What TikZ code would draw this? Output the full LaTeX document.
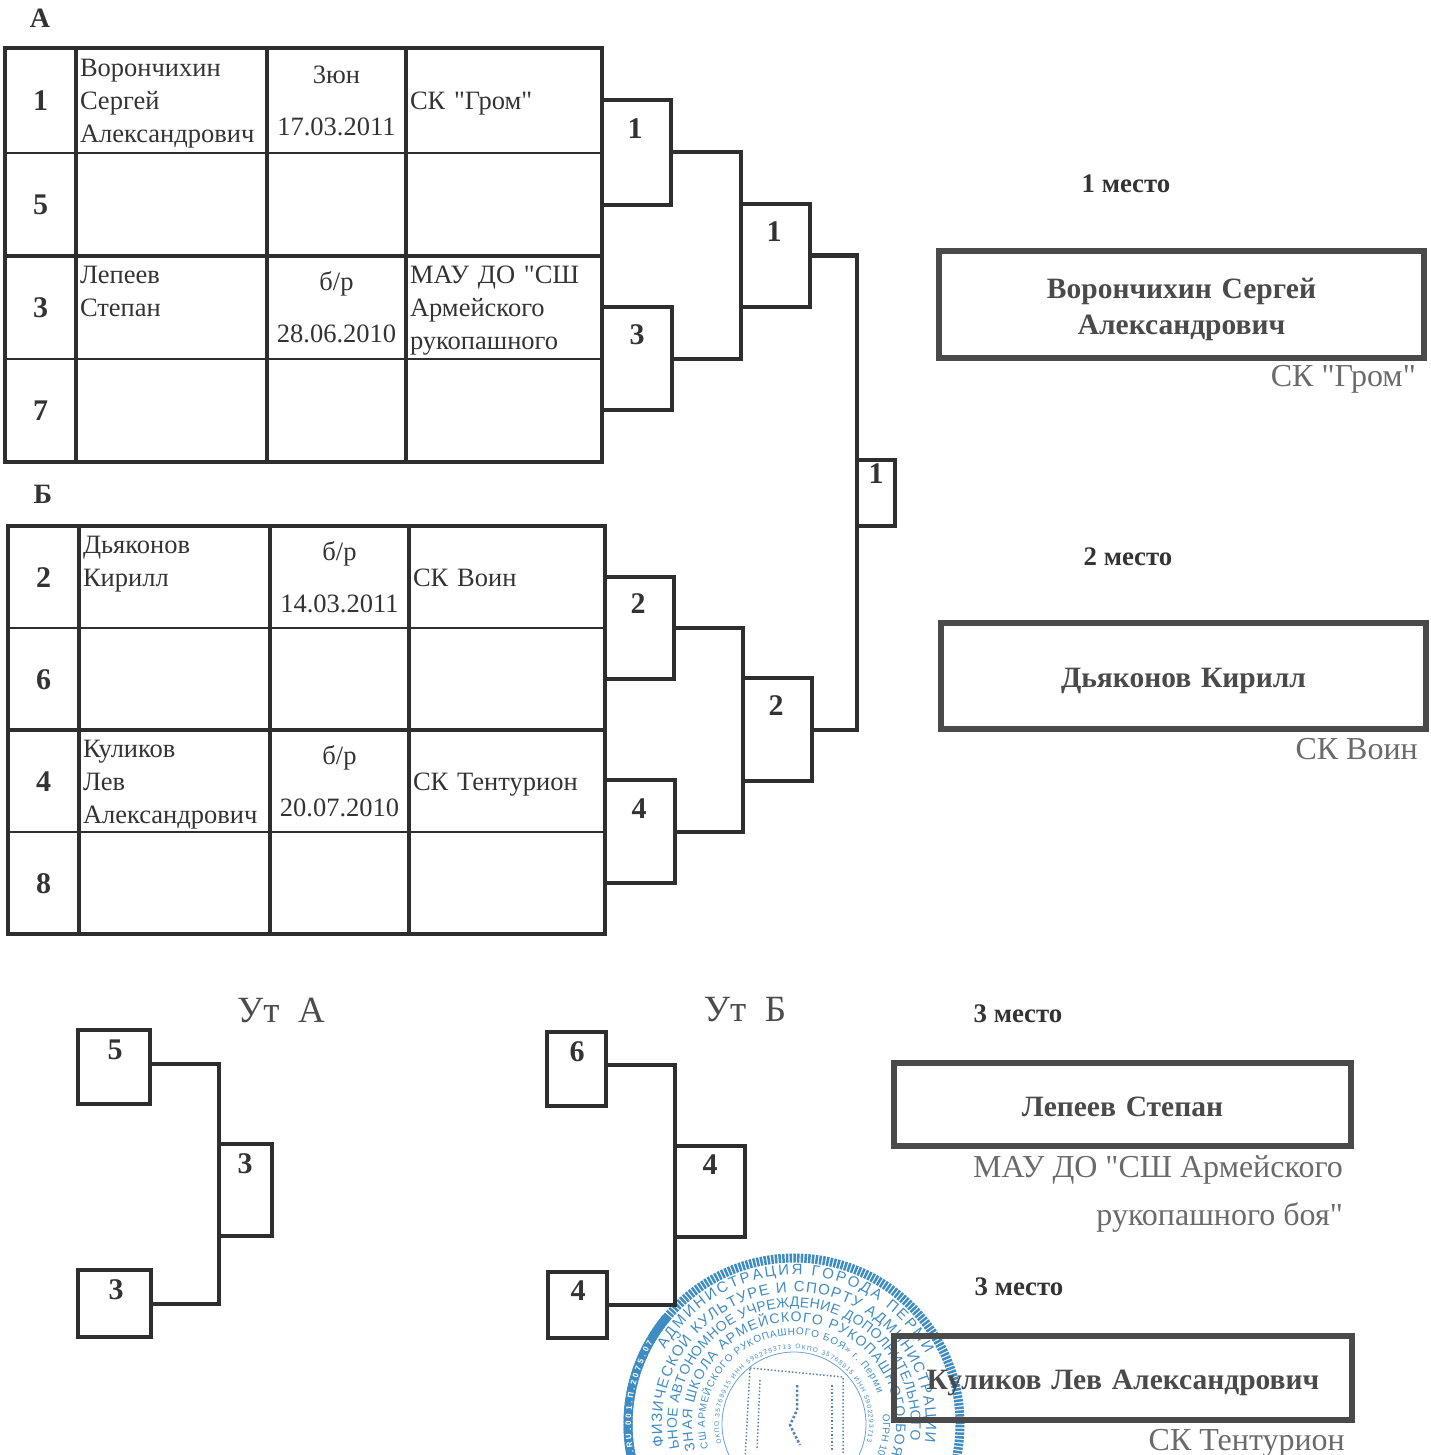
\documentclass[tikz,border=0pt]{standalone}
\usepackage{fontspec}
\setmainfont{Liberation Serif}[Ligatures=TeXOff]
\newfontfamily\stampfont{Liberation Sans}
\usepackage{xcolor}
\usetikzlibrary{positioning,fit,decorations.text}
\definecolor{GridInk}{HTML}{2E2E2E}
\definecolor{PrizeInk}{HTML}{4A4A4A}
\definecolor{ClubInk}{HTML}{6A6A6A}
\definecolor{StampBlue}{HTML}{3F8CC4}
\tikzset{
  cell/.style={draw=GridInk,line width=2pt,minimum height=103pt,inner sep=0pt,outer sep=0pt,
    font=\fontsize{26.5}{33}\selectfont,text=black!80},
  numcell/.style={cell,minimum width=71pt,font=\fontsize{30}{33}\selectfont\bfseries,
    execute at begin node={\rule{0pt}{28pt}},execute at end node={\rule[-8pt]{0pt}{8pt}}},
  namecell/.style={cell,minimum width=191pt,text width=183pt,align=left,
    execute at begin node={\rule{0pt}{26.5pt}},execute at end node={\rule[-8pt]{0pt}{8pt}}},
  datecell/.style={cell,minimum width=139pt,text width=135pt,align=center,font=\fontsize{26.5}{52}\selectfont,
    execute at begin node={\rule{0pt}{26.5pt}},execute at end node={\rule[-8pt]{0pt}{8pt}}},
  clubcell/.style={cell,minimum width=196pt,text width=188pt,align=left,
    execute at begin node={\rule{0pt}{26.5pt}},execute at end node={\rule[-8pt]{0pt}{8pt}}},
  toprow/.style={minimum height=105pt},
  frame/.style={draw=GridInk,line width=4pt,inner sep=0pt},
  heavy/.style={draw=GridInk,line width=4pt},
  bracket/.style={draw=GridInk,line width=4pt,inner sep=0pt,outer sep=0pt},
  link/.style={draw=GridInk,line width=4pt},
  num/.style={font=\fontsize{30}{33}\selectfont\bfseries,text=black!80,inner sep=0pt,yshift=-1pt},
  grouplabel/.style={font=\fontsize{28}{30}\selectfont\bfseries,text=black!80,inner sep=0pt},
  reptitle/.style={font=\fontsize{37}{38}\selectfont,text=black!70,inner sep=0pt},
  place/.style={font=\fontsize{26.8}{28}\selectfont\bfseries,text=black!80,inner sep=0pt},
  prize/.style={draw=PrizeInk,line width=6pt,inner sep=0pt,text width=440pt,align=center,text=PrizeInk,
    font=\fontsize{29.5}{36}\selectfont\bfseries,
    execute at begin node={\rule{0pt}{31.5pt}},execute at end node={\rule[-8pt]{0pt}{8pt}}},
  club/.style={anchor=east,inner sep=0pt,text=ClubInk,font=\fontsize{32}{33}\selectfont},
  ring/.style={decorate,decoration={text along path,text align=fit to path,text={#1}}}
}
\begin{document}
\begin{tikzpicture}[x=1pt,y=-1pt]
  \useasboundingbox (0,0) rectangle (1430,1455);
  % stamp
  \coordinate (stamp) at (794,1424);
  \begin{scope}
    \clip (0,0) rectangle (1430,1455);
    \draw[StampBlue,line width=9pt,dash pattern=on 2.5pt off 1.2pt] (stamp) circle[radius=166pt];
    \draw[StampBlue,line width=9pt] (stamp) ++(205:166pt) arc[start angle=205,end angle=140,radius=166pt];
    \draw[StampBlue!80,line width=.8pt] (stamp) circle[radius=72pt];
    \draw[StampBlue!60!gray,line width=1.5pt,dotted] (750,1368) -- (843,1377) -- (843,1460) -- (745,1460) -- cycle;
    \draw[StampBlue!60!gray,line width=1.5pt,dotted] (760,1380) -- (757,1450);
    \draw[StampBlue!60!gray,line width=1.5pt,dotted] (832,1385) -- (832,1450);
    \draw[StampBlue!60!gray,line width=2.5pt,dotted] (797,1385) -- (797,1410) -- (790,1425) -- (800,1445);
    \path[ring={|\stampfont\fontsize{15}{15}\selectfont\color{StampBlue}|АДМИНИСТРАЦИЯ ГОРОДА ПЕРМИ}] (stamp) ++(150:149pt) arc[start angle=150,end angle=28,radius=149pt];
    \path[ring={|\stampfont\fontsize{15}{15}\selectfont\color{StampBlue}|ФИЗИЧЕСКОЙ КУЛЬТУРЕ И СПОРТУ АДМИНИСТРАЦИИ}] (stamp) ++(190:132pt) arc[start angle=190,end angle=-8,radius=132pt];
    \path[ring={|\stampfont\fontsize{14}{14}\selectfont\color{StampBlue}|ЬНОЕ АВТОНОМНОЕ УЧРЕЖДЕНИЕ ДОПОЛНИТЕЛЬНОГО}] (stamp) ++(192:117pt) arc[start angle=192,end angle=-8,radius=117pt];
    \path[ring={|\stampfont\fontsize{14}{14}\selectfont\color{StampBlue}|ЗНАЯ ШКОЛА АРМЕЙСКОГО РУКОПАШНОГО БОЯ}] (stamp) ++(195:102pt) arc[start angle=195,end angle=-18,radius=102pt];
    \path[ring={|\stampfont\fontsize{10}{10}\selectfont\color{StampBlue}|СШ АРМЕЙСКОГО РУКОПАШНОГО БОЯ» г. Перми}] (stamp) ++(196:89pt) arc[start angle=196,end angle=20,radius=89pt];
    \path[ring={|\stampfont\fontsize{10}{10}\selectfont\color{StampBlue}|ОГРН 10}] (stamp) ++(6:89pt) arc[start angle=6,end angle=-20,radius=89pt];
    \path[ring={|\stampfont\fontsize{6.5}{7}\selectfont\color{StampBlue}|ОКПО 35768915 ИНН 5902293713 ОКПО 35768915 ИНН 5902293713}] (stamp) ++(195:75pt) arc[start angle=195,end angle=-14,radius=75pt];
    \path[ring={|\stampfont\fontsize{8}{8}\selectfont\bfseries\color{white}|RT.RU.001.П.2075.07}] (stamp) ++(196:163pt) arc[start angle=196,end angle=150,radius=163pt];
  \end{scope}
  % group A
  \node[grouplabel] (labela) at (40,18) {А};
  \node[numcell,toprow] (a1) at (40.5,100.5) {1};
  \node[namecell,toprow,right=0pt of a1] (a1n) {Ворончихин\\Сергей\\Александрович};
  \node[datecell,toprow,right=0pt of a1n] (a1d) {3юн\\17.03.2011};
  \node[clubcell,toprow,right=0pt of a1d] (a1c) {СК "Гром"};
  \node[numcell,below=0pt of a1] (a5) {5};
  \node[namecell,right=0pt of a5] (a5n) {};
  \node[datecell,right=0pt of a5n] (a5d) {};
  \node[clubcell,right=0pt of a5d] (a5c) {};
  \node[numcell,below=0pt of a5] (a3) {3};
  \node[namecell,right=0pt of a3] (a3n) {Лепеев\\Степан\\~};
  \node[datecell,right=0pt of a3n] (a3d) {б/р\\28.06.2010};
  \node[clubcell,right=0pt of a3d] (a3c) {МАУ ДО "СШ\\Армейского\\рукопашного};
  \node[numcell,below=0pt of a3] (a7) {7};
  \node[namecell,right=0pt of a7] (a7n) {};
  \node[datecell,right=0pt of a7n] (a7d) {};
  \node[clubcell,right=0pt of a7d] (a7c) {};
  \node[frame,fit=(a1)(a7c)] (tablea) {};
  \draw[heavy] (a5.south west) -- (a5c.south east);
  \draw[heavy] (a1n.north west) -- (a7n.south west);
  \draw[heavy] (a1d.north west) -- (a7d.south west);
  \draw[heavy] (a1c.north west) -- (a7c.south west);
  % group B
  \node[grouplabel] (labelb) at (43,494) {Б};
  \begin{scope}[cell/.append style={minimum height=102pt}]
    \node[numcell] (b2) at (43.5,577) {2};
    \node[namecell,right=0pt of b2] (b2n) {Дьяконов\\Кирилл\\~};
    \node[datecell,right=0pt of b2n] (b2d) {б/р\\14.03.2011};
    \node[clubcell,right=0pt of b2d] (b2c) {СК Воин};
    \node[numcell,below=0pt of b2] (b6) {6};
    \node[namecell,right=0pt of b6] (b6n) {};
    \node[datecell,right=0pt of b6n] (b6d) {};
    \node[clubcell,right=0pt of b6d] (b6c) {};
    \node[numcell,below=0pt of b6] (b4) {4};
    \node[namecell,right=0pt of b4] (b4n) {Куликов\\Лев\\Александрович};
    \node[datecell,right=0pt of b4n] (b4d) {б/р\\20.07.2010};
    \node[clubcell,right=0pt of b4d] (b4c) {СК Тентурион};
    \node[numcell,below=0pt of b4] (b8) {8};
    \node[namecell,right=0pt of b8] (b8n) {};
    \node[datecell,right=0pt of b8n] (b8d) {};
    \node[clubcell,right=0pt of b8d] (b8c) {};
  \end{scope}
  \node[frame,fit=(b2)(b8c)] (tableb) {};
  \draw[heavy] (b6.south west) -- (b6c.south east);
  \draw[heavy] (b2n.north west) -- (b8n.south west);
  \draw[heavy] (b2d.north west) -- (b8d.south west);
  \draw[heavy] (b2c.north west) -- (b8c.south west);
  % bracket A
  \node[bracket,minimum width=69pt,minimum height=105pt] (wa1) at (636.5,152.5) {};
  \node[bracket,minimum width=70pt,minimum height=103pt] (wa3) at (637,358.5) {};
  \node[bracket,minimum width=69pt,minimum height=103pt] (wa) at (775.5,255.5) {};
  \node[num] (wa1t) at (635,128) {1};
  \node[num] (wa3t) at (637,334) {3};
  \node[num] (wat) at (774,231) {1};
  \draw[link] (wa1.east) -| (wa.west) |- (wa3.east);
  % bracket B
  \node[bracket,minimum width=69pt,minimum height=102pt] (wb2) at (639.5,628) {};
  \node[bracket,minimum width=70pt,minimum height=103pt] (wb4) at (640,831.5) {};
  \node[bracket,minimum width=69pt,minimum height=103pt] (wb) at (777.5,729.5) {};
  \node[num] (wb2t) at (638,603) {2};
  \node[num] (wb4t) at (639,808) {4};
  \node[num] (wbt) at (776,705) {2};
  \draw[link] (wb2.east) -| (wb.west) |- (wb4.east);
  % final
  \node[bracket,minimum width=38pt,minimum height=66pt] (final) at (876,493) {};
  \node[num] (finalt) at (876,473) {1};
  \draw[link] (wa.east) -| (final.west) |- (wb.east);
  % repechage A
  \node[reptitle] (uta) at (281,1010) {Ут\ \ А};
  \node[bracket,minimum width=72pt,minimum height=74pt] (ra5) at (114,1067) {};
  \node[bracket,minimum width=73pt,minimum height=67pt] (ra3) at (114.5,1303.5) {};
  \node[bracket,minimum width=53pt,minimum height=92pt] (ra) at (245.5,1190) {};
  \node[num] (ra5t) at (115,1049) {5};
  \node[num] (ra3t) at (116,1289) {3};
  \node[num] (rat) at (245,1163) {3};
  \draw[link] (ra5.east |- 0,1064) -| (ra.west) |- (ra3.east);
  % repechage B
  \node[reptitle] (utb) at (745,1010) {Ут\ \ Б};
  \node[bracket,minimum width=59pt,minimum height=74pt] (rb6) at (576.5,1069) {};
  \node[bracket,minimum width=59pt,minimum height=66pt] (rb4) at (577.5,1305) {};
  \node[bracket,minimum width=70pt,minimum height=91pt] (rb) at (710,1191.5) {};
  \node[num] (rb6t) at (577,1051) {6};
  \node[num] (rb4t) at (578,1290) {4};
  \node[num] (rbt) at (710,1164) {4};
  \draw[link] (rb6.east |- 0,1065) -| (rb.west) |- (rb4.east);
  % places
  \node[place] (place1) at (1126,184) {1 место};
  \node[prize,minimum width=485pt,minimum height=107pt] (prize1) at (1181.5,304.5) {Ворончихин Сергей\\Александрович};
  \node[club] (club1) at (1416,379) {СК "Гром"};
  \node[place] (place2) at (1128,557) {2 место};
  \node[prize,minimum width=485pt,minimum height=106pt] (prize2) at (1183.5,676) {Дьяконов Кирилл};
  \node[club] (club2) at (1418,749) {СК Воин};
  \node[place] (place3) at (1018,1014) {3 место};
  \node[prize,minimum width=457pt,minimum height=83pt] (prize3) at (1122.5,1104.5) {Лепеев Степан};
  \node[club,align=right,font=\fontsize{32}{48}\selectfont] (club3) at (1343,1194) {МАУ ДО "СШ Армейского\\рукопашного боя"};
  \node[place] (place4) at (1019,1287) {3 место};
  \node[prize,minimum width=458pt,minimum height=84pt] (prize4) at (1123,1378) {Куликов Лев Александрович};
  \node[club] (club4) at (1345,1443) {СК Тентурион};
\end{tikzpicture}
\end{document}
